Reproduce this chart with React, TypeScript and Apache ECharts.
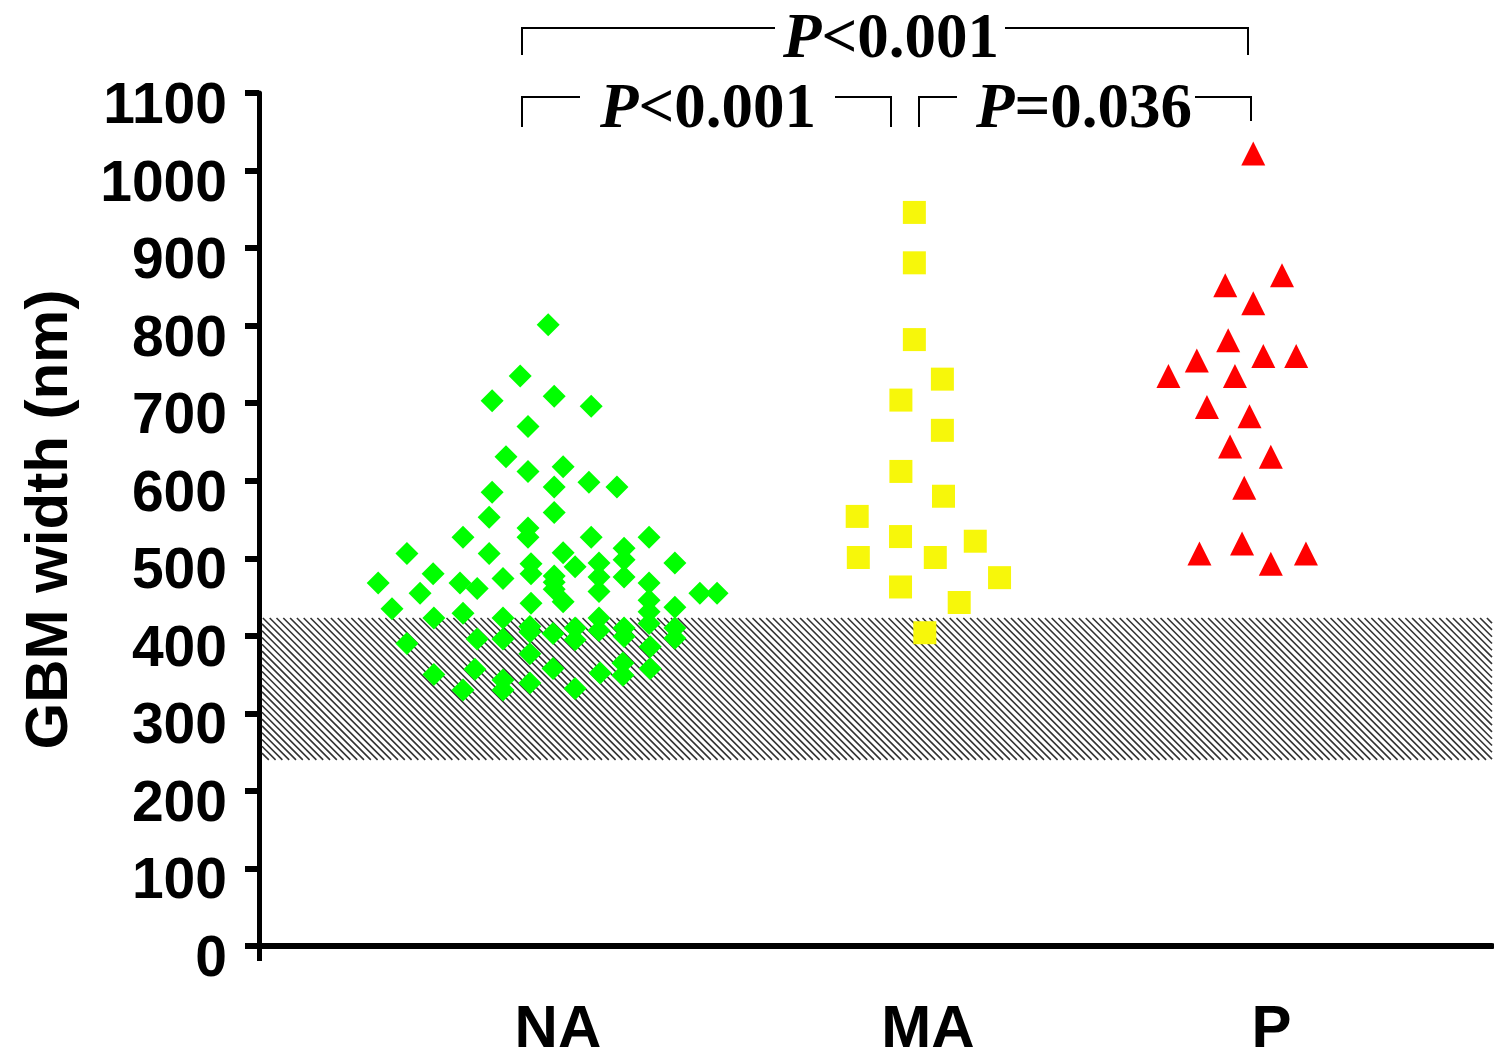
import React, { useEffect, useRef } from "react";
import * as echarts from "echarts";

// Group names and where their labels sit on the (jitter) x axis
const categories = ["NA", "MA", "P"];
const categoryPos = [0.8, 1.79, 2.71];

// [jitter x, GBM width nm]
const naPoints: [number, number][] = [
  [0.774, 801], [0.699, 735], [0.624, 703], [0.79, 709], [0.889, 696],
  [0.72, 670], [0.661, 631], [0.72, 612], [0.814, 618], [0.883, 598],
  [0.958, 592], [0.79, 592], [0.624, 585], [0.79, 559], [0.616, 553],
  [0.546, 527], [0.72, 539], [0.72, 527], [0.889, 527], [1.044, 527],
  [0.396, 506], [0.616, 506], [0.814, 507], [0.977, 513], [0.977, 498],
  [0.91, 494], [1.113, 494], [0.728, 493], [0.728, 480], [0.846, 489],
  [0.466, 480], [0.319, 468], [0.538, 468], [0.584, 461], [0.653, 474],
  [0.79, 477], [0.79, 469], [0.79, 460], [0.91, 476], [0.977, 476],
  [1.044, 468], [0.431, 455], [0.91, 457], [1.18, 455], [1.226, 455],
  [0.814, 444], [0.728, 442], [0.356, 435], [1.044, 446], [1.044, 431],
  [1.113, 437],
  [0.468, 423], [0.546, 429], [0.653, 423], [0.91, 423], [0.725, 412],
  [0.725, 405], [0.787, 403], [0.846, 410], [0.846, 395], [0.91, 407],
  [0.977, 410], [0.977, 399], [1.044, 416], [1.047, 386], [1.113, 410],
  [1.113, 397], [0.584, 396], [0.653, 396], [0.396, 390], [0.725, 377],
  [0.578, 357], [0.468, 350], [0.787, 358], [0.913, 352], [0.974, 365],
  [0.974, 349], [1.047, 358], [0.653, 343], [0.653, 330], [0.546, 330],
  [0.725, 339], [0.846, 332],
];

const maPoints: [number, number][] = [
  [1.754, 946], [1.754, 881], [1.754, 782], [1.829, 731], [1.718, 704],
  [1.829, 665], [1.718, 612], [1.832, 580], [1.601, 554], [1.717, 528],
  [1.917, 522], [1.604, 501], [1.81, 501], [1.982, 475], [1.717, 463],
  [1.874, 443], [1.782, 404],
];

const pPoints: [number, number][] = [
  [2.661, 1022], [2.738, 865], [2.586, 852], [2.661, 829], [2.594, 781],
  [2.688, 761], [2.776, 761], [2.51, 755], [2.434, 735], [2.612, 735],
  [2.537, 695], [2.651, 683], [2.599, 644], [2.708, 631], [2.637, 591],
  [2.517, 506], [2.631, 519], [2.708, 493], [2.802, 506],
];

// Shaded normal range (nm)
const normalRange: [number, number] = [240, 423];

const xRange: [number, number] = [0, 3.3];
const yMax = 1100;
const yStep = 100;

const pLabels = ["<0.001", "<0.001", "=0.036"];

export default function App() {
  const ref = useRef<HTMLDivElement>(null);

  useEffect(() => {
    if (!ref.current) return;
    const chart = echarts.init(ref.current, null, { renderer: "svg" });

    const sansBold = {
      fontFamily: "Liberation Sans, Arial, sans-serif",
      fontWeight: "bold" as const,
      color: "#000",
    };

    const line = (points: number[][]) => ({
      type: "polyline",
      shape: { points },
      style: { stroke: "#000", lineWidth: 2, fill: null },
    });

    const pText = (cx: number, cy: number, rest: string) => ({
      type: "text",
      x: cx,
      y: cy,
      style: {
        text: `{i|P}{n|${rest}}`,
        align: "center",
        verticalAlign: "middle",
        rich: {
          i: {
            fontFamily: "Liberation Serif, Times New Roman, serif",
            fontStyle: "italic",
            fontWeight: "bold",
            fontSize: 63,
            fill: "#000",
          },
          n: {
            fontFamily: "Liberation Serif, Times New Roman, serif",
            fontWeight: "bold",
            fontSize: 63,
            fill: "#000",
          },
        },
      },
    });

    chart.setOption({
      animation: false,
      backgroundColor: "#fff",
      grid: {
        left: 259,
        right: 2,
        top: 93,
        bottom: 112,
        containLabel: false,
        outerBoundsMode: "none",
      },
      xAxis: {
        type: "value",
        min: xRange[0],
        max: xRange[1],
        splitLine: { show: false },
        axisLine: { show: true, lineStyle: { color: "#000", width: 6 } },
        axisTick: {
          show: true,
          customValues: [xRange[0]],
          length: 15,
          lineStyle: { color: "#000", width: 5 },
        },
        axisLabel: {
          show: true,
          customValues: categoryPos,
          formatter: (v: number) => {
            let best = 0;
            categoryPos.forEach((p, i) => {
              if (Math.abs(p - v) < Math.abs(categoryPos[best] - v)) best = i;
            });
            return categories[best];
          },
          margin: 60,
          lineHeight: 40,
          verticalAlign: "top",
          fontSize: 60,
          ...sansBold,
        },
      },
      yAxis: {
        type: "value",
        min: 0,
        max: yMax,
        interval: yStep,
        name: "GBM width (nm)",
        nameLocation: "middle",
        nameGap: 183,
        nameTextStyle: { fontSize: 60, ...sansBold },
        splitLine: { show: false },
        axisLine: { show: true, lineStyle: { color: "#000", width: 5 } },
        axisTick: { show: true, length: 14, lineStyle: { color: "#000", width: 6 } },
        axisLabel: {
          margin: 32,
          fontSize: 57,
          verticalAlign: "top",
          lineHeight: 20,
          formatter: (v: number) => String(v),
          ...sansBold,
        },
      },
      series: [
        {
          type: "custom",
          silent: true,
          z: 1,
          data: [normalRange],
          renderItem: (params: any, api: any) => {
            const tl = api.coord([xRange[0], api.value(1)]);
            const br = api.coord([xRange[1], api.value(0)]);
            const x0 = tl[0] + 3;
            const x1 = br[0];
            const y0 = tl[1];
            const y1 = br[1];
            const H = y1 - y0;
            const children: any[] = [];
            for (let t = x0 - H; t < x1; t += 6.8) {
              let sx = t, sy = y0, ex = t + H, ey = y1;
              if (sx < x0) { sy = y0 + (x0 - sx); sx = x0; }
              if (ex > x1) { ey = y1 - (ex - x1); ex = x1; }
              if (ex <= sx) continue;
              children.push({
                type: "line",
                shape: { x1: sx, y1: sy, x2: ex, y2: ey },
                style: { stroke: "#333", lineWidth: 1.6 },
              });
            }
            return { type: "group", children };
          },
        },
        {
          type: "scatter",
          name: "NA",
          z: 3,
          symbol: "diamond",
          symbolSize: 23,
          itemStyle: { color: "#00ff00", opacity: 1 },
          data: naPoints,
        },
        {
          type: "scatter",
          name: "MA",
          z: 3,
          symbol: "rect",
          symbolSize: 23,
          itemStyle: { color: "#f7f70a", opacity: 1 },
          data: maPoints,
        },
        {
          type: "scatter",
          name: "P",
          z: 3,
          symbol: "triangle",
          symbolSize: 24,
          itemStyle: { color: "#ff0000", opacity: 1 },
          data: pPoints,
        },
      ],
      graphic: [
        line([[522, 55], [522, 28], [775, 28]]),
        line([[1005, 28], [1248, 28], [1248, 55]]),
        pText(891, 36, pLabels[0]),
        line([[522, 127], [522, 97], [580, 97]]),
        line([[835, 97], [891, 97], [891, 127]]),
        pText(708, 106, pLabels[1]),
        line([[919, 127], [919, 97], [957, 97]]),
        line([[1195, 97], [1251, 97], [1251, 121]]),
        pText(1084, 106, pLabels[2]),
      ],
    });

    return () => chart.dispose();
  }, []);

  return (
    <div
      ref={ref}
      style={{ position: "fixed", left: 0, top: 0, width: 1494, height: 1058, background: "#fff" }}
    />
  );
}
